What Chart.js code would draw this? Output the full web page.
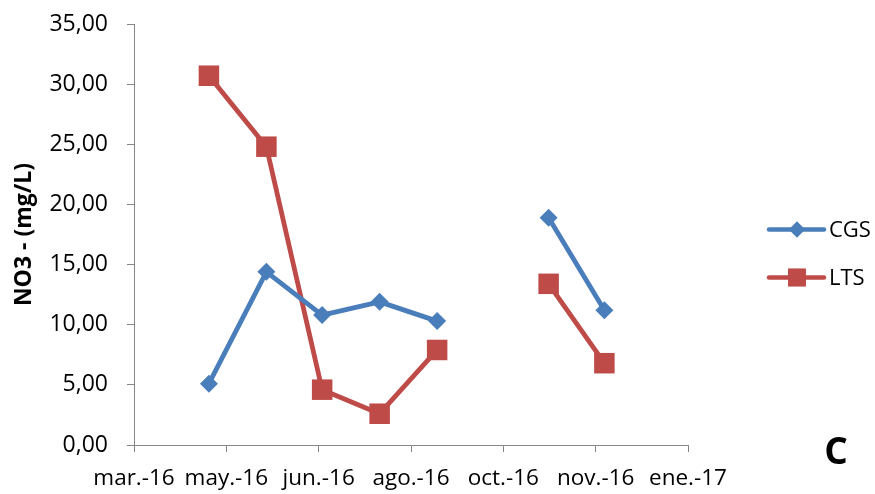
<!DOCTYPE html>
<html>
<head>
<meta charset="utf-8">
<script src="https://cdn.jsdelivr.net/npm/chart.js@4/dist/chart.umd.min.js"></script>
<style>
  html, body { margin: 0; padding: 0; background: #ffffff; }
  #wrap { position: relative; width: 875px; height: 494px; }
  canvas { display: block; }
</style>
</head>
<body>
<div id="wrap"><canvas id="chart" width="875" height="494"></canvas></div>
<script>
// Date axis labels (one tick every 53 days from the axis origin)
const xTickLabels = ['mar.-16', 'may.-16', 'jun.-16', 'ago.-16', 'oct.-16', 'nov.-16', 'ene.-17'];
const tickStepDays = 53;

// Sampling days, counted from the axis origin (the null row is a missed campaign)
const sampleDay = [43, 76, 108, 141, 174, 206, 238, 270];

// Nitrate concentration, mg/L
const cgs = [5.1, 14.4, 10.8, 11.9, 10.3, null, 18.9, 11.2];
const lts = [30.7, 24.8, 4.6, 2.6, 7.9, null, 13.4, 6.8];

const BLUE = '#4A7EBB';
const RED = '#BE4B48';
const AXIS = '#868686';
const FONT = "'Open Sans', sans-serif";

const toPoints = (vals) => vals.map((v, i) => ({ x: sampleDay[i], y: v }));

// Legend with line + marker samples and the panel letter
const sideLegend = {
  id: 'sideLegend',
  afterDraw(chart) {
    const ctx = chart.ctx;
    const area = chart.chartArea;
    const x0 = area.right + 81;
    const items = [
      { label: 'CGS', color: BLUE, style: 'rectRot', radius: 8, y: 229.5 },
      { label: 'LTS', color: RED, style: 'rect', radius: 12.5, y: 277.5 }
    ];
    ctx.save();
    items.forEach((it) => {
      ctx.strokeStyle = it.color;
      ctx.lineWidth = 4.5;
      ctx.lineCap = 'round';
      ctx.beginPath();
      ctx.moveTo(x0, it.y);
      ctx.lineTo(x0 + 55, it.y);
      ctx.stroke();
      ctx.fillStyle = it.color;
      Chart.helpers.drawPoint(ctx, { pointStyle: it.style, radius: it.radius, borderWidth: 0 }, x0 + 28, it.y);
      ctx.fill();
      ctx.fillStyle = '#000000';
      ctx.font = "22px " + FONT;
      ctx.textAlign = 'left';
      ctx.textBaseline = 'middle';
      ctx.fillText(it.label, x0 + 60, it.y + 1);
    });
    ctx.font = "bold 37px " + FONT;
    ctx.textAlign = 'center';
    ctx.textBaseline = 'middle';
    ctx.fillStyle = '#000000';
    ctx.fillText('C', 836, 453);
    ctx.restore();
  }
};

new Chart(document.getElementById('chart'), {
  type: 'line',
  data: {
    datasets: [
      {
        label: 'CGS',
        data: toPoints(cgs),
        borderColor: BLUE,
        backgroundColor: BLUE,
        borderWidth: 4.8,
        borderJoinStyle: 'round',
        borderCapStyle: 'round',
        pointStyle: 'rectRot',
        pointRadius: 9,
        pointBorderWidth: 0,
        pointBackgroundColor: BLUE,
        spanGaps: false,
        tension: 0
      },
      {
        label: 'LTS',
        data: toPoints(lts),
        borderColor: RED,
        backgroundColor: RED,
        borderWidth: 4.8,
        borderJoinStyle: 'round',
        borderCapStyle: 'round',
        pointStyle: 'rect',
        pointRadius: 14.5,
        pointBorderWidth: 0,
        pointBackgroundColor: RED,
        spanGaps: false,
        tension: 0
      }
    ]
  },
  options: {
    responsive: false,
    animation: false,
    events: [],
    layout: { padding: { top: 24, right: 187, left: 0, bottom: 0 } },
    plugins: {
      legend: { display: false },
      tooltip: { enabled: false }
    },
    scales: {
      x: {
        type: 'linear',
        min: 0,
        max: tickStepDays * (xTickLabels.length - 1),
        afterFit: (s) => { s.height = 49; s.paddingLeft = 0; s.paddingRight = 0; },
        afterBuildTicks: (s) => {
          s.ticks = xTickLabels.map((_, i) => ({ value: i * tickStepDays }));
        },
        ticks: {
          autoSkip: false,
          maxRotation: 0,
          padding: 13,
          color: '#000000',
          font: { family: FONT, size: 22.5 },
          callback: (v, i) => xTickLabels[i]
        },
        grid: { drawOnChartArea: false, drawTicks: true, tickLength: 7, color: AXIS, lineWidth: 1 },
        border: { display: true, color: AXIS, width: 1 }
      },
      y: {
        min: 0,
        max: 35,
        afterFit: (s) => { s.width = 134; s.paddingTop = 0; s.paddingBottom = 0; },
        ticks: {
          stepSize: 5,
          padding: 19,
          color: '#000000',
          font: { family: FONT, size: 23 },
          callback: (v) => v.toFixed(2).replace('.', ',')
        },
        grid: { drawOnChartArea: false, drawTicks: true, tickLength: 7, color: AXIS, lineWidth: 1 },
        border: { display: true, color: AXIS, width: 1 },
        title: {
          display: true,
          text: 'NO3 - (mg/L)',
          color: '#000000',
          font: { family: FONT, size: 23, weight: 'bold' },
          padding: { top: 11, bottom: 0 }
        }
      }
    }
  },
  plugins: [sideLegend]
});
</script>
</body>
</html>
